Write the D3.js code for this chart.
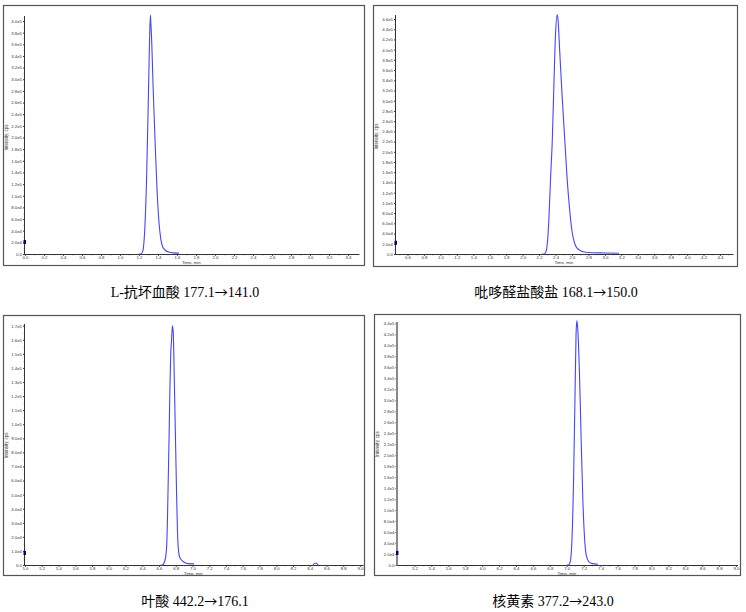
<!DOCTYPE html>
<html><head><meta charset="utf-8">
<script src="https://cdn.jsdelivr.net/npm/d3@7"></script>
<style>
body{margin:0;background:#fff;}
svg{display:block;}
.tk text{font-family:Arial,"Liberation Sans",sans-serif;font-size:4.3px;fill:#333;}
</style></head><body>
<svg id="c" width="746" height="612"></svg>
<script>
// ---- data (retention time, min / intensity, cps) ----
const titles = ["L-抗坏血酸  177.1→141.0", "吡哆醛盐酸盐 168.1→150.0", "叶酸 442.2→176.1", "核黄素 377.2→243.0"];
const xLabel = "Time, min";
const yLabel = "Intensity, cps";

const t1 = [1.20,1.22,1.24,1.26,1.28,1.30,1.31,1.32,1.325,1.33,1.35,1.37,1.39,1.41,1.43,1.45,1.48,1.52,1.56,1.62];
const v1 = [0,0,5000,40000,130000,280000,360000,410000,395000,380000,280000,190000,110000,55000,25000,12000,6000,3000,2000,1500];

const t2 = [2.24,2.26,2.28,2.30,2.32,2.34,2.36,2.38,2.40,2.42,2.43,2.45,2.48,2.51,2.54,2.57,2.60,2.63,2.66,2.70,2.75,2.85,3.00,3.17];
const v2 = [0,0,3000,20000,70000,150000,220000,330000,430000,468000,460000,400000,310000,230000,150000,90000,45000,22000,12000,7000,4000,2500,2000,1500];

const t3 = [6.62,6.64,6.67,6.69,6.70,6.71,6.72,6.73,6.74,6.75,6.76,6.77,6.78,6.79,6.80,6.81,6.82,6.83,6.85,6.90,6.95,7.02];
const v3 = [0,0,3000,12000,30000,60000,90000,125000,150000,160000,170000,165000,140000,110000,80000,50000,25000,12000,5000,2000,1000,800];
const t3b = [8.44,8.46,8.48,8.50];
const v3b = [0,1200,1200,0];

const t4 = [7.00,7.02,7.04,7.06,7.08,7.10,7.11,7.12,7.13,7.15,7.17,7.19,7.21,7.23,7.26,7.30,7.37];
const v4 = [0,0,5000,40000,150000,330000,420000,445000,430000,350000,230000,120000,50000,18000,6000,2500,1500];

const xDomains = [[0,3.5],[0.46,4.54],[5.0,9.02],[5.0,9.0]];
const xTickStart = [0.0,0.6,5.0,5.2];
const xTickEnd = [3.4,4.4,9.0,9.0];
const yMax = [400000,460000,170000,440000];
const yStep = [20000,20000,10000,20000];
const markerVal = [20600,22000,8500,22000];

// ---- layout ----
const panels = [
  {frame:[3.5,5.5,361,260], x0:25, x1:357.5, y0:254, yTop:21, axTop:16},
  {frame:[373.5,5.5,364,261], x0:396, x1:731.5, y0:254, yTop:19, axTop:15},
  {frame:[3.5,315.5,361,260], x0:25, x1:361.7, y0:565, yTop:325.7, axTop:324},
  {frame:[374.5,314.5,366,261], x0:397.5, x1:736, y0:565, yTop:323.3, axTop:322}
];
const captionPos = [[185,297],[556,297],[195,606],[553,606]];
const series = [[t1,v1],[t2,v2],[t3,v3],[t4,v4]];

const svg = d3.select("#c");
function fmt(v){
  if(v===0) return "0.0";
  const e = Math.floor(Math.log10(v)+1e-9);
  return (v/Math.pow(10,e)).toFixed(1)+"e"+e;
}
function range(a,b,s){const r=[];for(let v=a;v<=b+s*0.01;v+=s)r.push(+v.toFixed(6));return r;}

panels.forEach((p,i)=>{
  const g = svg.append("g");
  g.append("rect").attr("x",p.frame[0]).attr("y",p.frame[1]).attr("width",p.frame[2]).attr("height",p.frame[3])
    .attr("fill","none").attr("stroke","#555").attr("stroke-width",1.2);
  const x = d3.scaleLinear().domain(xDomains[i]).range([p.x0,p.x1]);
  const y = d3.scaleLinear().domain([0,yMax[i]]).range([p.y0,p.yTop]);

  // x axis
  const xt = range(xTickStart[i], xTickEnd[i], 0.2);
  const xa = g.append("g").attr("class","tk").attr("transform",`translate(0,${p.y0})`)
    .call(d3.axisBottom(x).tickValues(xt).tickSize(1.8).tickPadding(0.4).tickFormat(d=>d.toFixed(1)));
  xa.select(".domain").remove();
  xa.selectAll(".tick line").attr("stroke","#333");
  const xm = range(xTickStart[i]-0.1, xTickEnd[i]+0.1, 0.2).filter(v=>v>xDomains[i][0]&&v<xDomains[i][1]);
  g.append("g").attr("transform",`translate(0,${p.y0})`)
    .call(d3.axisBottom(x).tickValues(xm).tickSize(1.2).tickFormat(""))
    .call(s=>{s.select(".domain").remove();s.selectAll("line").attr("stroke","#333");});
  g.append("line").attr("x1",p.x0).attr("x2",p.x1+2).attr("y1",p.y0+0.5).attr("y2",p.y0+0.5).attr("stroke","#333").attr("stroke-width",1);

  // y axis
  const yt = range(0,yMax[i],yStep[i]);
  const ya = g.append("g").attr("class","tk").attr("transform",`translate(${p.x0},0)`)
    .call(d3.axisLeft(y).tickValues(yt).tickSize(2).tickPadding(1).tickFormat(fmt));
  ya.select(".domain").remove();
  ya.selectAll(".tick line").attr("stroke","#333");
  const ym = range(yStep[i]/2, yMax[i], yStep[i]);
  g.append("g").attr("transform",`translate(${p.x0},0)`)
    .call(d3.axisLeft(y).tickValues(ym).tickSize(1.2).tickFormat(""))
    .call(s=>{s.select(".domain").remove();s.selectAll("line").attr("stroke","#333");});
  g.append("line").attr("x1",p.x0-0.5).attr("x2",p.x0-0.5).attr("y1",p.y0+0.5).attr("y2",p.axTop)
    .attr("stroke", i===3?"#888":"#333").attr("stroke-width", i===3?2:1);

  // marker
  g.append("rect").attr("x",p.x0-1.5).attr("y",y(markerVal[i])-2).attr("width",2.5).attr("height",4).attr("fill","#000080");

  // labels
  g.append("text").attr("x",(p.x0+p.x1)/2).attr("y",p.y0+10.2).attr("text-anchor","middle")
    .attr("font-family","Arial,'Liberation Sans',sans-serif").attr("font-size",4.3).attr("fill","#333").text(xLabel);
  const ly = (p.y0+p.yTop)/2;
  const lx = p.frame[0]+4;
  g.append("text").attr("transform",`translate(${lx},${ly}) rotate(-90)`).attr("text-anchor","middle")
    .attr("font-family","Arial,'Liberation Sans',sans-serif").attr("font-size",4.5).attr("fill","#333").text(yLabel);

  // trace
  const line = d3.line().x(d=>x(d[0])).y(d=>y(d[1])).curve(d3.curveMonotoneX);
  const [ts,vs] = series[i];
  g.append("path").datum(ts.map((t,k)=>[t,vs[k]])).attr("d",line)
    .attr("fill","none").attr("stroke","#4545ff").attr("stroke-width",1.1);
  if(i===2){
    g.append("path").datum(t3b.map((t,k)=>[t,v3b[k]])).attr("d",line)
      .attr("fill","none").attr("stroke","#4545ff").attr("stroke-width",1.1);
  }

  // caption: arrow drawn with a CJK font so it is full-width like the original
  const cap = svg.append("text").attr("x",captionPos[i][0]).attr("y",captionPos[i][1]).attr("text-anchor","middle")
    .attr("font-family","'Liberation Serif','Times New Roman','Noto Sans CJK SC',serif").attr("font-size",14).attr("fill","#000");
  const parts = titles[i].split("→");
  cap.append("tspan").text(parts[0]);
  cap.append("tspan").attr("font-family","'Noto Sans CJK SC',sans-serif").attr("font-size",13).text("→");
  cap.append("tspan").text(parts[1]);
});
</script>
</body></html>
